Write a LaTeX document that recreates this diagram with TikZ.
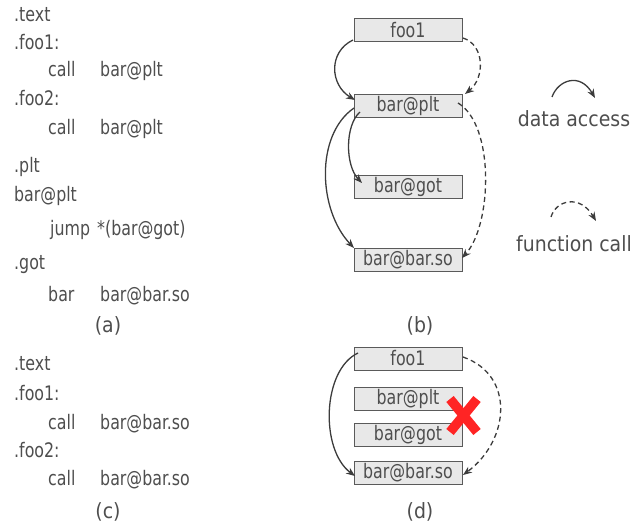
\documentclass[tikz,border=0pt]{standalone}
\usepackage{fontspec}
\setmainfont{DejaVu Sans Condensed}
\newfontfamily\codefont{DejaVu Sans Condensed}[FakeStretch=0.88]
\usetikzlibrary{arrows.meta,calc}
\definecolor{txt}{HTML}{4E4E4E}
\definecolor{ln}{HTML}{3C3C3C}
\definecolor{boxfill}{HTML}{E8E8E8}
\definecolor{boxline}{HTML}{5A5A5A}
\definecolor{xred}{HTML}{FF2424}
\tikzset{
  code/.style={anchor=base west,inner sep=0pt,text=txt,font=\codefont\fontsize{20}{22}\selectfont},
  lbl/.style={anchor=base,inner sep=0pt,text=txt,font=\fontsize{21}{24}\selectfont},
  sect/.style={draw=boxline,fill=boxfill,line width=1pt,minimum width=108pt,minimum height=23pt,inner sep=0pt,text=txt,font=\codefont\fontsize{20}{22}\selectfont},
  acc/.style={draw=ln,line width=1.3pt,-{Stealth[length=9pt,width=7pt]}},
  fcall/.style={draw=ln,line width=1.3pt,dash pattern=on 5pt off 3.5pt,-{Stealth[length=9pt,width=7pt]}},
  cross/.style={draw=xred,line width=9.5pt,line cap=butt}
}
\begin{document}
\begin{tikzpicture}[x=1pt,y=-1pt]
\useasboundingbox (0,0) rectangle (640,527);
% (a)
\node[code] (a1) at (14,22) {.text};
\node[code] (a2) at (14,50) {.foo1:};
\node[code] (a3) at (48,77) {call};
\node[code] (a3b) at (100,77) {bar@plt};
\node[code] (a4) at (14,106) {.foo2:};
\node[code] (a5) at (48,134) {call};
\node[code] (a5b) at (100,134) {bar@plt};
\node[code] (a6) at (14,172) {.plt};
\node[code] (a7) at (14,201) {bar@plt};
\node[code] (a8) at (50,235) {jump};
\node[code] (a8b) at (97,235) {*(bar@got)};
\node[code] (a9) at (14,269) {.got};
\node[code] (a10) at (48,301) {bar};
\node[code] (a10b) at (100,301) {bar@bar.so};
\node[lbl] (la) at (108,332) {(a)};
% (c)
\node[code] (c1) at (14,370) {.text};
\node[code] (c2) at (14,400) {.foo1:};
\node[code] (c3) at (48,429) {call};
\node[code] (c3b) at (100,429) {bar@bar.so};
\node[code] (c4) at (14,457) {.foo2:};
\node[code] (c5) at (48,485) {call};
\node[code] (c5b) at (100,485) {bar@bar.so};
\node[lbl] (lc) at (108,518) {(c)};
% (b)
\node[sect] (fooB) at (408,30.5) {foo1};
\node[sect] (pltB) at (408,106) {bar@plt};
\node[sect] (gotB) at (408,186.5) {bar@got};
\node[sect] (soB) at (408,260) {bar@bar.so};
\node[lbl] (lb) at (420,332) {(b)};
\coordinate (s1) at (353,40);
\coordinate (e1) at (355,100);
\draw[acc] (s1) .. controls (328,52) and (330,85) .. (e1);
\coordinate (s2) at (463,38);
\coordinate (e2) at (465,94);
\draw[fcall] (s2) .. controls (485,45) and (485,78) .. (e2);
\coordinate (s3) at (360,112);
\coordinate (e3) at (362,183);
\draw[acc] (s3) .. controls (345,125) and (345,165) .. (e3);
\coordinate (s4) at (354,108);
\coordinate (e4) at (354,248);
\draw[acc] (s4) .. controls (315,135) and (318,210) .. (e4);
\coordinate (s5) at (458,103);
\coordinate (e5) at (462,258);
\draw[fcall] (s5) .. controls (495,125) and (492,225) .. (e5);
% legend
\node[lbl] (ld) at (574,126) {data access};
\node[lbl] (lf) at (574,251) {function call};
\coordinate (ls1) at (552,97);
\coordinate (le1) at (595,98);
\draw[acc] (ls1) .. controls (558,80) and (580,72) .. (le1);
\coordinate (ls2) at (551,217);
\coordinate (le2) at (596,221);
\draw[fcall] (ls2) .. controls (556,200) and (580,194) .. (le2);
% (d)
\node[sect] (fooD) at (408,358.5) {foo1};
\node[sect] (pltD) at (408,398.5) {bar@plt};
\node[sect] (gotD) at (408,435) {bar@got};
\node[sect] (soD) at (408,473) {bar@bar.so};
\node[lbl] (ldd) at (420,518) {(d)};
\coordinate (s6) at (358,353);
\coordinate (e6) at (355,476);
\draw[acc] (s6) .. controls (322,370) and (320,450) .. (e6);
\coordinate (s7) at (463,357);
\coordinate (e7) at (463,475);
\draw[fcall] (s7) .. controls (515,375) and (510,440) .. (e7);
\draw[cross] (450,399) -- (477,432);
\draw[cross] (477,399) -- (450,432);
\end{tikzpicture}
\end{document}
